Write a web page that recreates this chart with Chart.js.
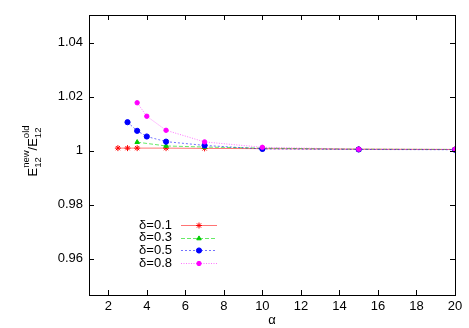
<!DOCTYPE html>
<html>
<head>
<meta charset="utf-8">
<script src="https://cdn.jsdelivr.net/npm/chart.js@4"></script>
<style>
  html, body { margin: 0; padding: 0; background: #fff; }
  #wrap { width: 469px; height: 328px; }
</style>
</head>
<body>
<div id="wrap"><canvas id="ratioChart"></canvas></div>
<script>
// alpha values and E12 ratio for each delta
const alphaD01 = [2.5, 3, 3.5, 5, 7, 10, 15, 20];
const ratioD01 = [1.0009, 1.0009, 1.0009, 1.0009, 1.0008, 1.0007, 1.0005, 1.0004];

const alphaD03 = [3.5, 5, 7, 10, 15, 20];
const ratioD03 = [1.0031, 1.0017, 1.0013, 1.0009, 1.0005, 1.0004];

const alphaD05 = [3, 3.5, 4, 5, 7, 10, 15, 20];
const ratioD05 = [1.0105, 1.0073, 1.0052, 1.0033, 1.0019, 1.0006, 1.0004, 1.0003];

const alphaD08 = [3.5, 4, 5, 7, 10, 15, 20];
const ratioD08 = [1.0177, 1.0127, 1.0075, 1.0032, 1.0012, 1.0005, 1.0004];

const xTicks = [2, 4, 6, 8, 10, 12, 14, 16, 18, 20];
const yTicks = [0.96, 0.98, 1, 1.02, 1.04];
const labels = ["\u03b4=0.1", "\u03b4=0.3", "\u03b4=0.5", "\u03b4=0.8"];

const FONT = "'Liberation Sans', Arial, Helvetica, sans-serif";

function pairs(xs, ys) {
  return xs.map((x, i) => ({ x: x, y: ys[i] }));
}

function series(label, xs, ys, color, lineColor, dash, style, radius, order) {
  return {
    label: label,
    data: pairs(xs, ys),
    order: order,
    borderColor: lineColor,
    borderWidth: 1,
    borderDash: dash,
    pointStyle: style,
    pointRadius: radius,
    pointBorderColor: color,
    pointBackgroundColor: color,
    pointBorderWidth: 1,
    tension: 0,
    fill: false,
  };
}

// draws y title: E_12^new / E_12^old, rotated
function drawYTitle(ctx, cx, cy) {
  const parts = [
    // text, size, dy, sits on same x as previous part
    ["E", 13, 0, false], ["12", 9.5, 4, false], ["new", 9.5, -8, true],
    ["/E", 13, 0, false], ["12", 9.5, 4, false], ["old", 9.5, -8, true],
  ];
  const widths = parts.map((p) => {
    ctx.font = p[1] + "px " + FONT;
    return ctx.measureText(p[0]).width;
  });
  let total = 0;
  parts.forEach((p, i) => {
    if (p[3]) total += Math.max(widths[i], widths[i - 1]) - widths[i - 1];
    else total += widths[i];
  });
  ctx.save();
  ctx.setTransform(0, -1, 1, 0, cx, cy);
  ctx.fillStyle = "#000";
  ctx.textAlign = "left";
  ctx.textBaseline = "alphabetic";
  let x = -total / 2;
  let prevX = x;
  parts.forEach((p, i) => {
    ctx.font = p[1] + "px " + FONT;
    if (p[3]) {
      ctx.fillText(p[0], prevX, p[2]);
      x = prevX + Math.max(widths[i], widths[i - 1]);
    } else {
      ctx.fillText(p[0], x, p[2]);
      prevX = x;
      x += widths[i];
    }
  });
  ctx.restore();
}

// frame + inward ticks on all four sides, gnuplot style
const framePlugin = {
  id: "frame",
  afterDraw(chart) {
    const { ctx, chartArea: a, scales } = chart;
    ctx.save();
    ctx.strokeStyle = "#000";
    ctx.lineWidth = 1;
    ctx.beginPath();
    const t = 5;
    scales.x.ticks.forEach((tk) => {
      const px = Math.round(scales.x.getPixelForValue(tk.value)) + 0.5;
      ctx.moveTo(px, a.bottom); ctx.lineTo(px, a.bottom - t);
      ctx.moveTo(px, a.top); ctx.lineTo(px, a.top + t);
    });
    scales.y.ticks.forEach((tk) => {
      const py = Math.round(scales.y.getPixelForValue(tk.value)) + 0.5;
      ctx.moveTo(a.left, py); ctx.lineTo(a.left + t, py);
      ctx.moveTo(a.right, py); ctx.lineTo(a.right - t, py);
    });
    ctx.stroke();
    ctx.strokeRect(Math.round(a.left) + 0.5, Math.round(a.top) + 0.5,
      Math.round(a.right - a.left), Math.round(a.bottom - a.top));
    ctx.restore();

    drawYTitle(ctx, 37, 151);

    // legend, bottom left inside the plot
    ctx.save();
    ctx.font = "13px " + FONT;
    ctx.textAlign = "right";
    ctx.textBaseline = "middle";
    chart.data.datasets.forEach((ds, i) => {
      const y = 225 + i * 12.7;
      ctx.fillStyle = "#000";
      ctx.fillText(ds.label, 172, y);
      ctx.strokeStyle = ds.borderColor;
      ctx.lineWidth = 1;
      ctx.setLineDash(ds.borderDash);
      ctx.beginPath();
      ctx.moveTo(181, Math.round(y) + 0.5);
      ctx.lineTo(217, Math.round(y) + 0.5);
      ctx.stroke();
      ctx.setLineDash([]);
      ctx.fillStyle = ds.pointBackgroundColor;
      ctx.strokeStyle = ds.pointBorderColor;
      Chart.helpers.drawPoint(ctx, {
        pointStyle: ds.pointStyle, radius: ds.pointRadius, borderWidth: 1, rotation: 0,
      }, 199, Math.round(y) + 0.5);
    });
    ctx.restore();
  },
};

new Chart(document.getElementById("ratioChart"), {
  type: "line",
  data: {
    datasets: [
      series(labels[0], alphaD01, ratioD01, "#ff0000", "rgba(255,0,0,0.55)", [], "star", 3, 3),
      series(labels[1], alphaD03, ratioD03, "#00cc00", "rgba(0,220,0,0.6)", [4, 2], "triangle", 2.6, 2),
      series(labels[2], alphaD05, ratioD05, "#0000ff", "rgba(0,0,255,0.55)", [2, 2], "circle", 2.6, 1),
      series(labels[3], alphaD08, ratioD08, "#ff00ff", "rgba(255,0,255,0.55)", [1, 1.5], "circle", 2.2, 0),
    ],
  },
  options: {
    responsive: true,
    maintainAspectRatio: false,
    animation: false,
    layout: { padding: { left: 0, top: 15, right: 14, bottom: 0 } },
    plugins: { legend: { display: false }, tooltip: { enabled: false } },
    scales: {
      x: {
        type: "linear",
        min: 1,
        max: 20,
        afterBuildTicks: (s) => { s.ticks = xTicks.map((v) => ({ value: v })); },
        afterFit: (s) => { s.height = 33; },
        grid: { display: false, drawTicks: false },
        border: { display: false },
        ticks: { color: "#000", padding: 4, maxRotation: 0, font: { family: FONT, size: 13 } },
        title: { display: true, text: "\u03b1", color: "#000", padding: { top: 0, bottom: 0 }, font: { family: FONT, size: 13 } },
      },
      y: {
        type: "linear",
        min: 0.9465,
        max: 1.0502,
        afterBuildTicks: (s) => { s.ticks = yTicks.map((v) => ({ value: v })); },
        afterFit: (s) => { s.width = 89; },
        grid: { display: false, drawTicks: false },
        border: { display: false },
        ticks: {
          color: "#000",
          padding: 6,
          font: { family: FONT, size: 13 },
          callback: (v) => (v === 1 ? "1" : v.toFixed(2)),
        },
      },
    },
  },
  plugins: [framePlugin],
});
</script>
</body>
</html>
